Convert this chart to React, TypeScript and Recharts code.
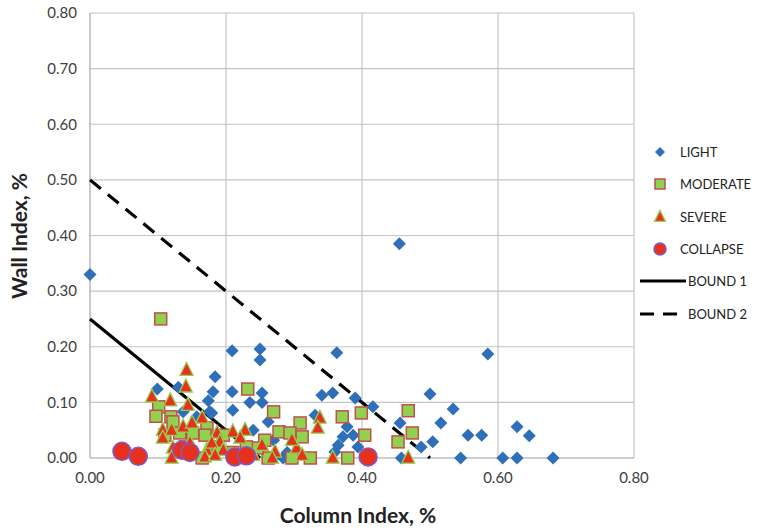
import React from "react";
import {
  ScatterChart,
  Scatter,
  XAxis,
  YAxis,
  CartesianGrid,
  Legend,
  Label,
} from "recharts";

// [column index, wall index] pairs
const light: number[][] = [
  [0.0, 0.33], [0.455, 0.385], [0.585, 0.187], [0.5, 0.115], [0.534, 0.088],
  [0.516, 0.063], [0.556, 0.041], [0.576, 0.041], [0.628, 0.056], [0.646, 0.04],
  [0.504, 0.029], [0.487, 0.02], [0.545, 0], [0.607, 0], [0.628, 0], [0.681, 0],
  [0.456, 0.063], [0.458, 0.0], [0.363, 0.189], [0.341, 0.113], [0.357, 0.117],
  [0.39, 0.108], [0.416, 0.092], [0.331, 0.077], [0.378, 0.056], [0.372, 0.038],
  [0.387, 0.041], [0.365, 0.023], [0.36, 0.011], [0.394, 0.02], [0.284, 0],
  [0.209, 0.193], [0.25, 0.196], [0.25, 0.176], [0.184, 0.146], [0.099, 0.124],
  [0.13, 0.127], [0.181, 0.119], [0.209, 0.119], [0.253, 0.117], [0.174, 0.103],
  [0.235, 0.1], [0.253, 0.1], [0.21, 0.086], [0.176, 0.083], [0.137, 0.083],
  [0.179, 0.081], [0.157, 0.074], [0.262, 0.065], [0.24, 0.05], [0.27, 0.032],
  [0.27, 0.0], [0.29, 0.01], [0.3, 0.0],
];

const moderate: number[][] = [
  [0.104, 0.25], [0.232, 0.124], [0.101, 0.092], [0.097, 0.075], [0.119, 0.074],
  [0.122, 0.065], [0.27, 0.083], [0.172, 0.054], [0.169, 0.041], [0.11, 0.041],
  [0.132, 0.045], [0.151, 0.045], [0.196, 0.041], [0.165, 0.0], [0.188, 0.02],
  [0.309, 0.063], [0.278, 0.047], [0.294, 0.045], [0.257, 0.032], [0.312, 0.038],
  [0.324, 0], [0.297, 0], [0.262, 0], [0.246, 0.018], [0.371, 0.074],
  [0.399, 0.081], [0.404, 0.041], [0.379, 0], [0.468, 0.085], [0.474, 0.045],
  [0.453, 0.029], [0.14, 0.02], [0.21, 0.01], [0.23, 0.02],
];

const severe: number[][] = [
  [0.142, 0.158], [0.141, 0.128], [0.144, 0.095], [0.091, 0.11], [0.118, 0.103],
  [0.165, 0.072], [0.107, 0.05], [0.12, 0.05], [0.137, 0.056], [0.15, 0.063],
  [0.187, 0.045], [0.191, 0.029], [0.107, 0.036], [0.122, 0.018], [0.147, 0.027],
  [0.172, 0.014], [0.179, 0.027], [0.196, 0.014], [0.12, 0], [0.169, 0.002],
  [0.184, 0.005], [0.21, 0.047], [0.228, 0.05], [0.221, 0.036], [0.253, 0.023],
  [0.272, 0.011], [0.304, 0.018], [0.312, 0.005], [0.24, 0.005], [0.338, 0.072],
  [0.335, 0.054], [0.357, 0], [0.468, 0], [0.268, 0], [0.297, 0.032],
];

const collapse: number[][] = [
  [0.047, 0.012], [0.071, 0.003], [0.135, 0.014], [0.147, 0.01],
  [0.213, 0.002], [0.23, 0.004], [0.409, 0.002],
];

const bound1: number[][] = [[0, 0.25], [0.25, 0]];
const bound2: number[][] = [[0, 0.5], [0.5, 0]];

const xTicks = [0, 0.2, 0.4, 0.6, 0.8];
const yTicks = [0, 0.1, 0.2, 0.3, 0.4, 0.5, 0.6, 0.7, 0.8];

const toPts = (arr: number[][]) => arr.map(([x, y]) => ({ x, y }));

const BLUE = "#2f6fba";
const GREEN = "#92d050";
const RED = "#e8301f";
const RED_EDGE = "#c0504d";
const PURPLE = "#7a5cc8";

const Diamond = ({ cx, cy, r = 6.5 }: any) => (
  <path d={`M${cx},${cy - r}L${cx + r},${cy}L${cx},${cy + r}L${cx - r},${cy}Z`} fill={BLUE} />
);
const Square = ({ cx, cy, s = 12 }: any) => (
  <rect x={cx - s / 2} y={cy - s / 2} width={s} height={s} fill={GREEN} stroke={RED_EDGE} strokeWidth={1.5} />
);
const Triangle = ({ cx, cy, s = 13 }: any) => (
  <path
    d={`M${cx},${cy - s * 0.6}L${cx + s / 2},${cy + s * 0.4}L${cx - s / 2},${cy + s * 0.4}Z`}
    fill={RED}
    stroke={GREEN}
    strokeWidth={1.3}
  />
);
const Circle = ({ cx, cy, r = 9 }: any) => (
  <circle cx={cx} cy={cy} r={r} fill={RED} stroke={PURPLE} strokeWidth={1.5} />
);

const legendRows = [
  { name: "LIGHT", kind: "diamond" },
  { name: "MODERATE", kind: "square" },
  { name: "SEVERE", kind: "triangle" },
  { name: "COLLAPSE", kind: "circle" },
  { name: "BOUND 1", kind: "solid" },
  { name: "BOUND 2", kind: "dash" },
];

const renderLegend = () => (
  <div style={{ fontFamily: "Lato, sans-serif", fontSize: 13, color: "#222" }}>
    {legendRows.map((r) => (
      <div key={r.name} style={{ display: "flex", alignItems: "center", height: 32.3 }}>
        <svg width={46} height={20}>
          {r.kind === "diamond" && <Diamond cx={20} cy={10} r={5} />}
          {r.kind === "square" && <Square cx={20} cy={10} s={10} />}
          {r.kind === "triangle" && <Triangle cx={20} cy={10} s={11} />}
          {r.kind === "circle" && <Circle cx={20} cy={10} r={6} />}
          {r.kind === "solid" && <line x1={0} y1={10} x2={46} y2={10} stroke="#000" strokeWidth={3} />}
          {r.kind === "dash" && (
            <line x1={0} y1={10} x2={46} y2={10} stroke="#000" strokeWidth={3} strokeDasharray="14 9" />
          )}
        </svg>
        <span style={{ marginLeft: r.kind === "solid" || r.kind === "dash" ? 2 : -6 }}>{r.name}</span>
      </div>
    ))}
  </div>
);

const tickStyle = { fill: "#404040", fontSize: 15, fontFamily: "Lato, sans-serif" };

export default function App() {
  return (
    <div style={{ position: "absolute", left: 0, top: 0, background: "#fff" }}>
      <ScatterChart
        width={780}
        height={532}
        margin={{ top: 13, right: 6, bottom: 34, left: 30 }}
      >
        <CartesianGrid stroke="#c4c4c4" strokeWidth={1.2} />
        <XAxis
          type="number"
          dataKey="x"
          domain={[0, 0.8]}
          ticks={xTicks}
          tickFormatter={(v: number) => v.toFixed(2)}
          tickLine={false}
          axisLine={{ stroke: "#bcbcbc", strokeWidth: 1.2 }}
          tick={tickStyle}
          tickMargin={8}
          height={40}
        >
          <Label
            content={() => (
              <text x={358} y={523} textAnchor="middle" fontFamily="Lato, sans-serif" fontWeight={700} fontSize={21} fill="#222">
                Column Index, %
              </text>
            )}
          />
        </XAxis>
        <YAxis
          type="number"
          dataKey="y"
          domain={[0, 0.8]}
          ticks={yTicks}
          tickFormatter={(v: number) => v.toFixed(2)}
          tickLine={false}
          axisLine={{ stroke: "#bcbcbc", strokeWidth: 1.2 }}
          tick={tickStyle}
          tickMargin={7}
          width={60}
        >
          <Label
            content={() => (
              <text
                x={0}
                y={0}
                transform="translate(27,236) rotate(-90)"
                textAnchor="middle"
                fontFamily="Lato, sans-serif"
                fontWeight={700}
                fontSize={21}
                fill="#222"
              >
                Wall Index, %
              </text>
            )}
          />
        </YAxis>
        <Legend
          layout="vertical"
          align="right"
          verticalAlign="top"
          wrapperStyle={{ left: 640, top: 136, width: 140 }}
          content={renderLegend}
        />
        <Scatter
          name="BOUND 1"
          data={toPts(bound1)}
          line={{ stroke: "#000", strokeWidth: 3.2 }}
          shape={() => <g />}
          isAnimationActive={false}
        />
        <Scatter
          name="BOUND 2"
          data={toPts(bound2)}
          line={{ stroke: "#000", strokeWidth: 3.2, strokeDasharray: "14 9" }}
          shape={() => <g />}
          isAnimationActive={false}
        />
        <Scatter name="LIGHT" data={toPts(light)} shape={(p: any) => <Diamond cx={p.cx} cy={p.cy} />} isAnimationActive={false} />
        <Scatter name="MODERATE" data={toPts(moderate)} shape={(p: any) => <Square cx={p.cx} cy={p.cy} />} isAnimationActive={false} />
        <Scatter name="SEVERE" data={toPts(severe)} shape={(p: any) => <Triangle cx={p.cx} cy={p.cy} />} isAnimationActive={false} />
        <Scatter name="COLLAPSE" data={toPts(collapse)} shape={(p: any) => <Circle cx={p.cx} cy={p.cy} />} isAnimationActive={false} />
      </ScatterChart>
    </div>
  );
}
